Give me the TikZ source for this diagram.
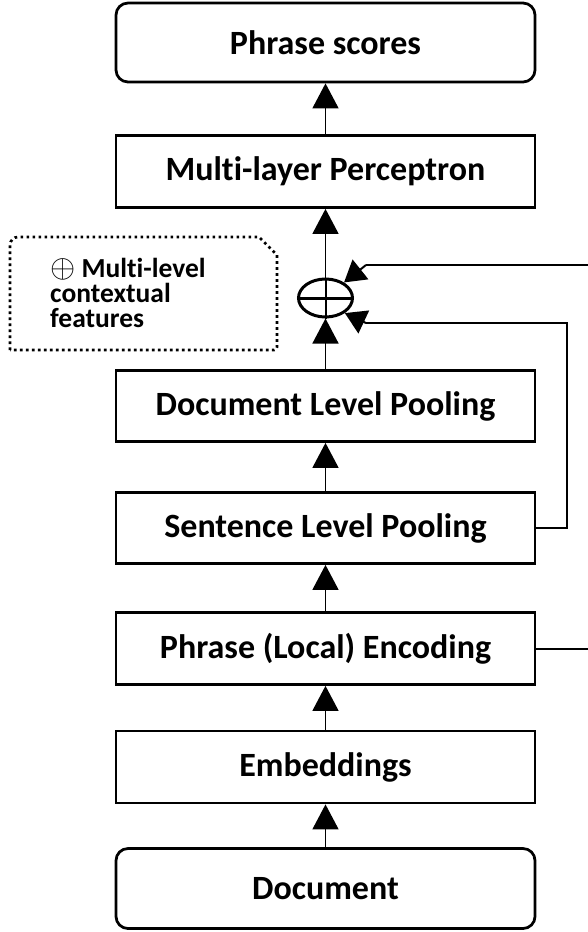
\documentclass[tikz,border=0pt]{standalone}
\usepackage{fontspec}
\setmainfont{Carlito}[Ligatures=NoCommon]
\usetikzlibrary{arrows.meta,shapes.geometric}
\tikzset{
  stage/.style={draw, line width=2.75pt, minimum width=419pt, inner sep=0pt,
    font=\fontsize{34}{40}\selectfont\bfseries},
  endstage/.style={stage, rounded corners=12pt},
  uparrow/.style={line width=1.5pt, -{Triangle[width=26pt,length=25pt]}},
  sidearrow/.style={line width=2pt, -{Triangle[width=25pt,length=21pt]}},
  feed/.style={line width=2pt},
  legendline/.style={line width=2.7pt, dash pattern=on 2.7pt off 3.3pt},
}
\begin{document}
\begin{tikzpicture}[x=1pt, y=-1pt]
\useasboundingbox (0,0) rectangle (588,932);
\clip (0,0) rectangle (588,932);

% processing stages, bottom to top
\node[endstage, minimum height=79pt] (scores) at (325.5,42.5) {Phrase scores};
\node[stage, minimum height=72pt] (mlp) at (325.5,171.5) {Multi-layer Perceptron};
\node[stage, minimum height=71pt] (dlp) at (325.5,406) {Document Level Pooling};
\node[stage, minimum height=71pt] (slp) at (325.5,528) {Sentence Level Pooling};
\node[stage, minimum height=72pt] (ple) at (325.5,648.5) {Phrase (Local) Encoding};
\node[stage, minimum height=72pt] (emb) at (325.5,767) {Embeddings};
\node[endstage, minimum height=80pt] (doc) at (325.5,888.5) {Document};

% concatenation of the feature levels
\node[ellipse, draw, line width=3pt, minimum width=54pt, minimum height=38pt, inner sep=0pt] (plus) at (325.5,298) {};
\draw[line width=3pt] (plus.west) -- (plus.east);
\draw[line width=2pt] (plus.north) -- (plus.south);

% main upward flow
\draw[uparrow] (doc.north) -- (emb.south);
\draw[uparrow] (emb.north) -- (ple.south);
\draw[uparrow] (ple.north) -- (slp.south);
\draw[uparrow] (slp.north) -- (dlp.south);
\draw[uparrow] (dlp.north) -- (plus.south);
\draw[uparrow] (plus.north) -- (mlp.south);
\draw[uparrow] (mlp.north) -- (scores.south);

% skip connections into the concatenation
\coordinate (kinkA) at (366,265);
\coordinate (kinkB) at (366,323);
\draw[feed] (ple.east) -- (620,648.5) |- (kinkA);
\draw[sidearrow] (kinkA) -- (plus.40);
\draw[feed] (slp.east) -- (567,528) |- (kinkB);
\draw[sidearrow] (kinkB) -- (plus.-38);

% legend
\draw[legendline] (10,350) [rounded corners=8pt] -- (10,237) [sharp corners] -- (259,237) -- (277,255) [rounded corners=3pt] -- (277,350) [sharp corners] -- cycle;
\node[anchor=base west, inner sep=0pt, align=left,
  font=\fontsize{27.5}{25}\selectfont\bfseries] (legend) at (50,327)
  {\scalebox{1.3}{$\oplus$} Multi-level\\contextual\\features};
\end{tikzpicture}
\end{document}
